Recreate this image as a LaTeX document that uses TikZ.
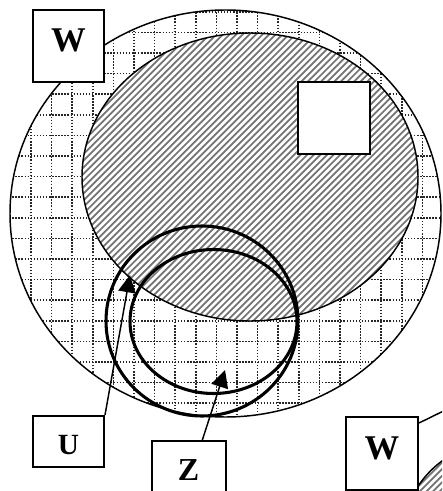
\documentclass[tikz,border=0pt]{standalone}
\usepackage{fontspec}
\setmainfont{Liberation Serif}
\usetikzlibrary{arrows.meta,calc}

\tikzset{
  labelbox/.style={draw, line width=1.5pt, fill=white, inner sep=0pt, font=\bfseries},
  gridline/.style={black!85, line width=1.1pt, dash pattern=on 1.1pt off 1.2pt},
  hatchline/.style={black!55, line width=1.3pt},
  setline/.style={line width=1.1pt},
  ring/.style={line width=2.3pt},
  pointer/.style={line width=1.1pt, -{Triangle[length=13pt,width=13pt]}},
}

\begin{document}
\begin{tikzpicture}[x=0.75pt, y=-0.75pt]
	\clip (0,0) rectangle (442,491);
	\fill[white] (0,0) rectangle (442,491);
	\begin{scope}
		\clip (225.5,213.5) ellipse (215.5 and 203.5);
		\foreach \i in {0,...,21} {
			\draw[gridline] (10.4+20.6*\i,0) -- ++(0,491);
			\draw[gridline] (0,11.8+20.6*\i) -- ++(442,0);
		}
	\end{scope}
	\draw[setline] (225.5,213.5) ellipse (215.5 and 203.5);
	\fill[white] (250,177) ellipse (168 and 144);
	\begin{scope}
		\clip (250,177) ellipse (168 and 144);
		\foreach \c in {-340,-333.4,...,460} \draw[hatchline] (\c,340) -- ++(340,-340);
	\end{scope}
	\draw[setline] (250,177) ellipse (168 and 144);
	\draw[line width=1.5pt, fill=white] (298,82) rectangle (370,154);
	\draw[ring] (202,321) ellipse (96 and 95);
	\draw[ring] (213.5,321.5) ellipse (83.5 and 72);
	\fill[white] (500,540) circle (98);
	\begin{scope}
		\clip (500,540) circle (98);
		\foreach \c in {200,206.6,...,600} \draw[hatchline] (\c,500) -- ++(200,-200);
	\end{scope}
	\draw[setline] (500,540) circle (98);
	\node[labelbox, minimum width=53.25pt, minimum height=54pt, font=\bfseries\fontsize{26}{26}\selectfont, text depth=9pt] (wtop) at (68.5,46) {W};
	\node[labelbox, minimum width=53.25pt, minimum height=38.25pt, font=\bfseries\fontsize{22}{22}\selectfont, text height=19pt] (u) at (68.5,441.5) {U};
	\node[labelbox, minimum width=55.5pt, minimum height=43.5pt, font=\bfseries\fontsize{24}{24}\selectfont, xshift=-4pt] (z) at (194,470) {Z};
	\node[labelbox, minimum width=54pt, minimum height=54.75pt, font=\bfseries\fontsize{26}{26}\selectfont, text depth=8pt] (wbot) at (382,453.5) {W};
	\coordinate (utip) at (130,275);
	\coordinate (ztip) at (225,370);
	\coordinate (zfoot) at ($(z.north west)!0.68!(z.north east)$);
	\coordinate (wout) at (470,398);
	\draw[pointer] (u.north east) -- (utip);
	\draw[pointer] (zfoot) -- (ztip);
	\draw[setline] ($(wbot.north east)+(0,7)$) -- (wout);
\end{tikzpicture}
\end{document}
